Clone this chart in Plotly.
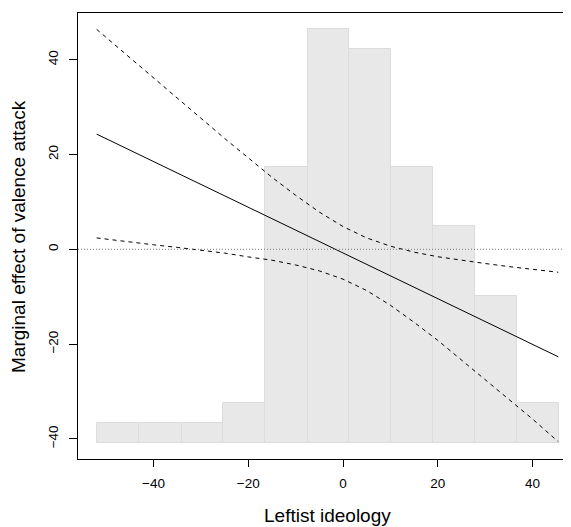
import plotly.graph_objects as go

# ---- data ----
HIST_EDGES = [-52.0, -43.0, -34.05, -25.3, -16.4, -7.45, 1.33, 10.13, 19.0, 27.8, 36.67, 45.6]
HIST_TOPS = [-36.7, -36.7, -36.7, -32.5, 17.4, 46.4, 42.3, 17.4, 4.9, -9.85, -32.5]
HIST_BASE = -40.8

EFFECT_X = [-52.0, 45.45]
EFFECT_Y = [24.3, -22.68]

CI_X = [-52, -45, -40, -35, -30, -25, -20, -15, -10, -5, 0, 5, 10, 15, 20, 25, 30, 35, 40, 45.45]
CI_UPPER = [46.4, 40.4, 36.1, 31.8, 27.6, 23.4, 19.3, 15.2, 11.4, 7.85, 4.8, 2.4, 0.66, -0.6,
            -1.57, -2.35, -3.0, -3.65, -4.2, -4.84]
CI_LOWER = [2.4, 1.5, 0.95, 0.4, -0.2, -0.8, -1.6, -2.3, -3.3, -4.55, -6.3, -8.7, -11.8, -15.4,
            -19.2, -23.3, -27.4, -31.55, -35.8, -40.6]

X_TICKS = [-40, -20, 0, 20, 40]
Y_TICKS = [-40, -20, 0, 20, 40]
X_TITLE = "Leftist ideology"
Y_TITLE = "Marginal effect of valence attack"

FONT = "Liberation Sans, Arial, Helvetica, sans-serif"

centers = [(a + b) / 2 for a, b in zip(HIST_EDGES[:-1], HIST_EDGES[1:])]
widths = [b - a for a, b in zip(HIST_EDGES[:-1], HIST_EDGES[1:])]
heights = [t - HIST_BASE for t in HIST_TOPS]

fig = go.Figure()
fig.add_trace(go.Bar(x=centers, y=heights, base=HIST_BASE, width=widths,
                     marker=dict(color="#E8E8E8", line=dict(color="#DCDCDC", width=1)),
                     hoverinfo="skip", showlegend=False))
fig.add_shape(type="line", xref="paper", x0=0, x1=1, yref="y", y0=0, y1=0,
              line=dict(color="#7a7a7a", width=1, dash="1px,2px"))
fig.add_trace(go.Scatter(x=CI_X, y=CI_UPPER, mode="lines",
                         line=dict(color="black", width=1, dash="4px,4px"), showlegend=False))
fig.add_trace(go.Scatter(x=CI_X, y=CI_LOWER, mode="lines",
                         line=dict(color="black", width=1, dash="4px,4px"), showlegend=False))
fig.add_trace(go.Scatter(x=EFFECT_X, y=EFFECT_Y, mode="lines",
                         line=dict(color="black", width=1), showlegend=False))

fig.update_layout(
    width=571, height=527,
    margin=dict(l=70, r=0, t=5, b=76),
    paper_bgcolor="white", plot_bgcolor="white",
    font=dict(family=FONT, size=13.5, color="black"),
    bargap=0,
    xaxis=dict(range=[-55.94, 49.82], tickvals=X_TICKS, ticks="outside", ticklen=7,
               tickcolor="black", tickwidth=1, showgrid=False, zeroline=False,
               showline=True, linecolor="black", linewidth=1, mirror=True,
               ticklabelstandoff=5),
    yaxis=dict(range=[-44.24, 49.85], tickvals=Y_TICKS, ticks="outside", ticklen=8,
               tickcolor="black", tickwidth=1, tickangle=-90, showgrid=False, zeroline=False,
               showline=True, linecolor="black", linewidth=1, ticklabelstandoff=6),
    annotations=[
        dict(text=X_TITLE, xref="paper", yref="paper", x=0.4986, y=-0.1256,
             xanchor="center", yanchor="middle", showarrow=False, font=dict(size=19)),
        dict(text=Y_TITLE, xref="paper", yref="paper", x=-0.1198, y=0.5,
             xanchor="center", yanchor="middle", showarrow=False, textangle=-90,
             font=dict(size=19)),
    ],
)

fig.write_html("out.html", config=dict(displayModeBar=False))
